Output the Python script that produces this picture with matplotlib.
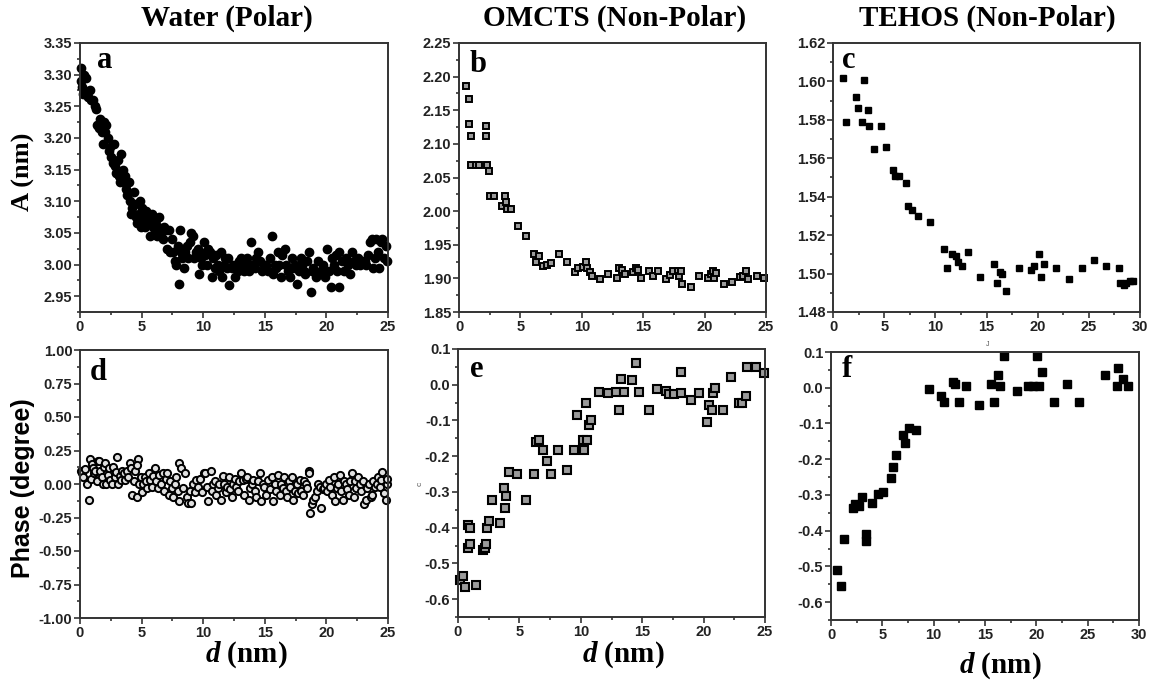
import numpy as np
import matplotlib
matplotlib.use('Agg')
import matplotlib.pyplot as plt
from matplotlib.ticker import MultipleLocator, FormatStrFormatter

# ---- panel a: water amplitude ----
water_d_amp = [0.05, 0.12, 0.2, 0.28, 0.36, 0.45,
               0.55, 0.68, 0.8, 0.92,
               1.05, 1.18, 1.3, 1.42,
               1.55, 1.65, 1.75, 1.85, 1.95,
               2.05, 2.15, 2.25, 2.35, 2.45,
               2.55, 2.65, 2.75, 2.85, 2.95,
               3.05, 3.15, 3.25, 3.35, 3.45,
               3.55, 3.65, 3.75, 3.85, 3.95,
               4.05, 4.15, 4.25, 4.35, 4.45,
               4.55, 4.65, 4.75, 4.85, 4.95,
               5.05, 5.15, 5.25, 5.35, 5.45,
               5.55, 5.65, 5.75, 5.85, 5.95,
               6.05, 6.15, 6.25, 6.35, 6.45,
               6.58, 6.7, 6.82, 6.94,
               7.08, 7.2, 7.32, 7.44,
               7.55, 7.68, 7.8, 7.92,
               8.05, 8.15, 8.2, 8.3, 8.42,
               8.55, 8.68, 8.8, 8.92,
               9.05, 9.15, 9.25, 9.65, 9.45,
               9.55, 9.7, 9.8, 9.92,
               10.05, 10.18, 10.3, 10.42,
               10.55, 10.68, 10.8, 10.92,
               11.05, 11.18, 11.3, 11.42,
               11.55, 11.68, 11.8, 11.92,
               12.05, 12.12, 12.3, 12.42,
               12.55, 12.68, 12.8, 12.92,
               13.05, 13.18, 13.3, 13.42,
               13.55, 13.68, 13.8, 13.92,
               14.05, 14.18, 14.3, 14.42,
               14.6, 14.75, 14.9,
               15.1, 15.25, 15.4,
               15.6, 15.7, 15.82, 15.94,
               16.05, 16.18, 16.3, 16.42,
               16.6, 16.75, 16.9,
               17.05, 17.18, 17.3, 17.42,
               17.6, 17.75, 17.9,
               18.05, 18.18, 18.3, 18.42,
               18.55, 18.75, 18.8, 18.92,
               19.05, 19.18, 19.3, 19.42,
               19.6, 19.75, 19.9,
               20.05, 20.18, 20.4, 20.45,
               20.6, 20.75, 20.9,
               21.05, 21.0, 21.3, 21.42,
               21.6, 21.75, 21.9,
               22.1, 22.25, 22.4,
               22.6, 22.75, 22.9,
               23.1, 23.25, 23.4,
               23.55, 23.68, 23.8, 23.92,
               24.05, 24.18, 24.3, 24.42,
               24.55, 24.68, 24.8, 24.92]
water_amp = [3.29, 3.31, 3.28, 3.27, 3.30, 3.295,
             3.27, 3.265, 3.275, 3.26,
             3.26, 3.25, 3.245, 3.22,
             3.215, 3.23, 3.21, 3.19, 3.225,
             3.21, 3.22, 3.20, 3.18, 3.185,
             3.17, 3.16, 3.19, 3.155, 3.145,
             3.165, 3.14, 3.13, 3.175, 3.15,
             3.13, 3.14, 3.12, 3.11, 3.13,
             3.10, 3.08, 3.09, 3.115, 3.095,
             3.075, 3.065, 3.08, 3.10, 3.06,
             3.09, 3.07, 3.06, 3.085, 3.075,
             3.065, 3.045, 3.07, 3.08, 3.06,
             3.055, 3.07, 3.045, 3.06, 3.075,
             3.05, 3.04, 3.06, 3.055,
             3.025, 3.055, 3.02, 3.04,
             3.02, 3.005, 3.0, 3.03,
             2.97, 3.055, 3.02, 3.01, 2.995,
             3.02, 3.03, 3.01, 3.035,
             3.05, 3.045, 3.01, 2.985, 3.02,
             3.025, 3.02, 3.01, 3.0,
             3.035, 3.015, 3.0, 3.025,
             3.02, 2.98, 3.01, 2.995,
             3.015, 3.0, 2.99, 3.02,
             2.98, 3.0, 3.01, 2.995,
             3.01, 2.967, 2.995, 3.0,
             2.98, 3.0, 2.99, 3.005,
             3.01, 2.995, 2.99, 3.0,
             3.01, 2.99, 3.0, 3.035,
             3.0, 2.995, 3.01, 3.02,
             3.005, 2.99, 3.0,
             3.0, 2.99, 3.01,
             3.045, 2.985, 3.0, 2.995,
             3.02, 3.0, 2.98, 3.015,
             3.025, 3.0, 2.99,
             2.98, 3.01, 2.995, 3.0,
             2.97, 2.99, 3.01,
             3.0, 2.99, 2.985, 3.005,
             3.02, 2.956, 2.99, 2.995,
             2.99, 2.98, 3.005, 2.985,
             2.99, 3.0, 2.98,
             3.025, 2.99, 2.965, 3.01,
             3.0, 3.015, 2.99,
             3.02, 2.965, 3.005, 2.99,
             3.01, 3.0, 2.985,
             3.02, 3.005, 3.0,
             3.01, 3.0, 3.005,
             3.005, 3.0, 3.015,
             3.035, 3.04, 2.995, 3.01,
             3.04, 3.02, 2.995, 3.035,
             3.04, 3.01, 3.03, 3.005]

# ---- panel d: water phase ----
water_d_ph = [0.05, 0.15, 0.28, 0.42,
              0.7, 0.6, 0.9, 0.8, 0.95,
              1.05, 1.15, 1.25, 1.35, 1.45,
              1.55, 1.65, 1.75, 1.85, 1.95,
              2.05, 2.15, 2.25, 2.35, 2.45,
              2.58, 2.7, 2.82, 2.94,
              3.0, 3.12, 3.22, 3.32, 3.42,
              3.55, 3.68, 3.8, 3.92,
              4.05, 4.15, 4.25, 4.35, 4.45,
              4.7, 4.6, 4.65, 4.8, 4.92,
              5.05, 5.15, 5.25, 5.35, 5.45,
              5.58, 5.7, 5.82, 5.94,
              6.08, 6.2, 6.32, 6.44,
              6.58, 6.7, 6.82, 6.94,
              7.08, 7.2, 7.32, 7.44,
              7.58, 7.7, 7.82, 7.94,
              8.0, 8.2, 8.05, 8.35,
              8.55, 8.68, 8.8, 8.92,
              9.05, 9.18, 9.3, 9.42,
              9.6, 9.75, 9.9,
              10.05, 10.18, 10.3, 10.42,
              10.6, 10.68, 10.8, 10.92,
              11.05, 11.18, 11.3, 11.42,
              11.58, 11.7, 11.82, 11.94,
              12.08, 12.2, 12.32, 12.44,
              12.58, 12.7, 12.82, 12.94,
              13.08, 13.2, 13.32, 13.44,
              13.58, 13.7, 13.82, 13.94,
              14.08, 14.2, 14.32, 14.44,
              14.58, 14.7, 14.82, 14.94,
              15.1, 15.25, 15.4,
              15.58, 15.7, 15.82, 15.94,
              16.08, 16.2, 16.32, 16.44,
              16.58, 16.7, 16.82, 16.94,
              17.08, 17.2, 17.32, 17.44,
              17.58, 17.7, 17.82, 17.94,
              18.08, 18.2, 18.32, 18.44,
              18.55, 18.62, 18.7, 18.82, 18.94,
              19.08, 19.2, 19.32, 19.44,
              19.58, 19.7, 19.82, 19.94,
              20.08, 20.2, 20.32, 20.44,
              20.58, 20.7, 20.82, 20.94,
              21.08, 21.2, 21.32, 21.44,
              21.58, 21.7, 21.82, 21.94,
              22.08, 22.2, 22.32, 22.44,
              22.58, 22.7, 22.82, 22.94,
              23.08, 23.2, 23.32, 23.44,
              23.58, 23.7, 23.82, 23.94,
              24.08, 24.2, 24.32, 24.44,
              24.55, 24.65, 24.8, 24.9, 24.95]
water_phase = [0.10, 0.08, 0.05, 0.11,
               -0.12, 0.0, 0.04, 0.19, 0.15,
               0.12, 0.08, 0.10, 0.02, 0.17,
               0.17, 0.10, 0.05, 0.0, 0.13,
               0.16, 0.0, 0.07, 0.12, 0.03,
               0.0, 0.13, 0.05, 0.09,
               0.20, 0.0, 0.06, 0.03, 0.10,
               0.08, 0.03, 0.10, 0.05,
               0.16, 0.12, -0.08, 0.02, 0.10,
               0.19, 0.14, -0.10, 0.0, 0.05,
               -0.06, 0.0, 0.05, 0.02, -0.03,
               0.08, 0.03, -0.02, 0.06,
               0.12, 0.02, -0.03, 0.07,
               0.0, 0.08, -0.05, 0.04,
               0.08, -0.08, 0.02, -0.03,
               -0.10, 0.0, 0.05, -0.05,
               0.16, 0.12, -0.13, -0.03,
               0.08, -0.10, -0.14, -0.05,
               -0.14, 0.0, -0.06, 0.03,
               -0.02, 0.04, -0.06,
               0.08, 0.08, -0.02, -0.13,
               0.10, -0.05, 0.0, 0.02,
               -0.08, -0.03, 0.0, -0.12,
               0.06, 0.0, -0.06, -0.02,
               0.05, -0.04, -0.10, 0.0,
               0.04, -0.02, -0.05, 0.02,
               0.08, 0.03, -0.08, 0.04,
               0.05, -0.12, -0.03, 0.0,
               0.03, -0.05, -0.10, 0.02,
               0.08, -0.13, 0.0, -0.02,
               -0.08, 0.03, -0.04,
               0.05, -0.13, 0.0, -0.05,
               0.07, -0.08, 0.0, -0.03,
               0.05, -0.05, -0.10, 0.02,
               -0.02, 0.05, -0.12, -0.05,
               0.0, -0.07, 0.03, -0.05,
               -0.08, 0.02, 0.0, -0.03,
               0.10, 0.08, -0.22, -0.15, -0.12,
               -0.10, -0.05, 0.0, -0.02,
               -0.18, -0.04, -0.03, 0.0,
               -0.05, 0.03, -0.02, -0.08,
               0.05, -0.13, -0.03, 0.0,
               0.07, -0.05, -0.12, 0.02,
               0.0, -0.04, -0.08, 0.02,
               0.08, -0.10, 0.02, -0.03,
               0.05, 0.0, -0.05, 0.02,
               -0.15, -0.12, -0.03, 0.0,
               -0.10, -0.08, 0.02, -0.02,
               0.0, 0.05, -0.02, 0.03,
               0.09, -0.07, -0.12, 0.0, 0.04]

# ---- panel b: OMCTS amplitude ----
omcts_d_amp = [0.6, 0.82, 0.82, 0.95, 0.95, 1.36, 1.63, 2.17, 2.23, 2.3,
               2.45, 2.53, 2.85, 3.48, 3.75, 3.86, 3.94, 4.2, 4.84, 5.49,
               6.11, 6.25, 6.52, 6.85, 7.15, 7.47, 8.15, 8.83, 9.46, 9.73,
               10.1, 10.33, 10.46, 10.65, 10.87, 11.5, 12.17, 12.83, 13.04, 13.3,
               13.5, 14.2, 14.4, 14.6, 14.84, 15.49, 15.76, 16.17, 16.85, 17.2,
               17.45, 17.8, 17.9, 18.07, 18.2, 18.9, 19.57, 20.24, 20.5, 20.65,
               20.8, 20.9, 21.6, 22.2, 22.9, 23.15, 23.4, 23.5, 24.24, 24.86]
omcts_amp = [2.186, 2.167, 2.13, 2.112, 2.069, 2.069, 2.069, 2.126, 2.112, 2.069,
             2.06, 2.022, 2.022, 2.008, 2.022, 2.013, 2.003, 2.003, 1.978, 1.963,
             1.936, 1.924, 1.933, 1.918, 1.92, 1.923, 1.936, 1.924, 1.909, 1.916,
             1.917, 1.924, 1.915, 1.91, 1.903, 1.899, 1.906, 1.901, 1.916, 1.913,
             1.907, 1.91, 1.916, 1.913, 1.901, 1.911, 1.904, 1.911, 1.899, 1.905,
             1.911, 1.911, 1.903, 1.911, 1.891, 1.887, 1.904, 1.9, 1.907, 1.911,
             1.9, 1.908, 1.891, 1.895, 1.902, 1.904, 1.911, 1.899, 1.903, 1.9]

# ---- panel e: OMCTS phase ----
omcts_d_ph = [0.14, 0.4, 0.55, 0.82, 0.95, 0.82, 0.95, 1.44, 2.04, 2.18,
              2.26, 2.37, 2.53, 2.8, 3.46, 3.73, 3.9, 3.84, 4.17, 4.77,
              5.5, 6.19, 6.32, 6.57, 6.9, 7.22, 7.55, 8.17, 8.86, 9.48,
              9.73, 10.16, 10.27, 10.44, 10.54, 10.7, 10.84, 11.5, 12.2, 12.83,
              13.08, 13.3, 13.54, 14.2, 14.47, 14.74, 15.56, 16.21, 16.9, 17.17,
              17.58, 18.12, 18.2, 18.94, 19.62, 20.25, 20.44, 20.65, 20.79, 20.93,
              21.58, 22.2, 22.89, 23.16, 23.49, 23.52, 24.25, 24.93]
omcts_phase = [-0.547, -0.535, -0.565, -0.393, -0.40, -0.456, -0.446, -0.561, -0.463, -0.456,
               -0.446, -0.402, -0.382, -0.322, -0.386, -0.29, -0.31, -0.346, -0.244, -0.25,
               -0.322, -0.25, -0.16, -0.155, -0.182, -0.214, -0.25, -0.182, -0.238, -0.182,
               -0.085, -0.155, -0.182, -0.05, -0.155, -0.113, -0.10, -0.019, -0.023, -0.019,
               -0.07, 0.017, -0.019, 0.014, 0.061, -0.02, -0.07, -0.011, -0.018, -0.025,
               -0.025, 0.036, -0.024, -0.044, -0.023, -0.103, -0.058, -0.07, -0.023, -0.009,
               -0.07, 0.021, -0.05, -0.05, -0.031, 0.051, 0.051, 0.033]

# ---- panel c: TEHOS amplitude ----
tehos_d_amp = [1.0, 1.3, 2.2, 2.4, 2.8, 3.06, 3.45, 3.5, 4.66, 4.0,
               5.15, 5.86, 6.06, 6.45, 7.1, 7.3, 7.7, 8.3, 9.5, 10.8,
               11.1, 11.6, 12.0, 12.2, 12.6, 13.2, 14.4, 15.7, 16.0, 16.3,
               16.5, 16.9, 18.2, 19.3, 19.6, 20.1, 20.3, 20.6, 21.8, 23.1,
               24.3, 25.5, 26.7, 27.9, 28.0, 28.4, 28.6, 29.0, 29.3]
tehos_amp = [1.602, 1.579, 1.592, 1.586, 1.579, 1.601, 1.585, 1.577, 1.577, 1.565,
             1.566, 1.554, 1.551, 1.551, 1.547, 1.535, 1.533, 1.530, 1.527, 1.513,
             1.503, 1.510, 1.509, 1.506, 1.504, 1.511, 1.498, 1.505, 1.495, 1.501,
             1.500, 1.491, 1.503, 1.502, 1.504, 1.510, 1.498, 1.505, 1.503, 1.497,
             1.503, 1.507, 1.504, 1.503, 1.495, 1.494, 1.495, 1.496, 1.496]

# ---- panel f: TEHOS phase ----
tehos_d_ph = [0.55, 0.94, 1.27, 2.18, 2.34, 2.76, 2.99, 3.41, 3.41, 4.03,
              4.61, 5.1, 5.84, 6.07, 6.33, 7.05, 7.21, 7.63, 8.28, 9.51,
              10.71, 11.0, 11.92, 12.08, 12.5, 13.15, 14.42, 15.62, 15.91, 16.23,
              16.46, 16.85, 18.08, 19.22, 19.64, 20.03, 20.23, 20.55, 21.72, 22.95,
              24.19, 26.66, 27.82, 27.99, 28.41, 28.9]
tehos_phase = [-0.509, -0.554, -0.424, -0.336, -0.324, -0.332, -0.305, -0.409, -0.43, -0.322,
               -0.297, -0.292, -0.254, -0.222, -0.189, -0.131, -0.155, -0.114, -0.117, -0.003,
               -0.022, -0.041, 0.017, 0.011, -0.041, 0.005, -0.048, 0.01, -0.041, 0.036,
               0.004, 0.089, -0.008, 0.004, 0.004, 0.089, 0.004, 0.043, -0.041, 0.01,
               -0.041, 0.036, 0.004, 0.055, 0.024, 0.004]

titles = ['Water (Polar)', 'OMCTS (Non-Polar)', 'TEHOS (Non-Polar)']
letters = ['a', 'b', 'c', 'd', 'e', 'f']

plt.rcParams['axes.unicode_minus'] = False
plt.rcParams['mathtext.fontset'] = 'custom'
plt.rcParams['mathtext.it'] = 'Liberation Serif:italic:bold'
plt.rcParams['mathtext.rm'] = 'Liberation Serif:bold'

W, H = 1153, 682
fig = plt.figure(figsize=(W / 100, H / 100), dpi=100)
SERIF = 'Liberation Serif'
SANS = 'Liberation Sans'


def px_axes(l, t, r, b):
    return fig.add_axes([l / W, 1 - b / H, (r - l) / W, (b - t) / H])


def fx(x):
    return x / W


def fy(y):
    return 1 - y / H


def style(ax, xlim, xmaj, ylim, ymaj, fmt):
    ax.set_xlim(*xlim)
    ax.set_ylim(*ylim)
    ax.xaxis.set_major_locator(MultipleLocator(xmaj))
    ax.xaxis.set_minor_locator(MultipleLocator(xmaj / 2))
    ax.yaxis.set_major_locator(MultipleLocator(ymaj))
    ax.yaxis.set_minor_locator(MultipleLocator(ymaj / 2))
    ax.yaxis.set_major_formatter(FormatStrFormatter(fmt))
    ax.tick_params(which='both', direction='out', width=1.1, color='#222222')
    ax.tick_params(which='major', length=4, labelsize=10.5, pad=1.5)
    ax.tick_params(which='minor', length=2.5)
    for lab in ax.get_xticklabels() + ax.get_yticklabels():
        lab.set_fontfamily(SANS)
        lab.set_fontweight('bold')
        lab.set_color('#222222')
    for sp in ax.spines.values():
        sp.set_linewidth(1.4)
        sp.set_color('#333333')


ax_a = px_axes(80, 43, 388, 312)
ax_b = px_axes(459, 43, 766, 312)
ax_c = px_axes(833, 43, 1140, 312)
ax_d = px_axes(80, 350, 388, 618)
ax_e = px_axes(458, 349, 765, 617)
ax_f = px_axes(831, 352, 1139, 620)

ax_a.plot(water_d_amp, water_amp, 'o', ms=6, color='black', mec='black', clip_on=False)
style(ax_a, (0, 25), 5, (2.925, 3.35), 0.05, '%.2f')

ax_b.plot(omcts_d_amp, omcts_amp, 's', ms=4.6, mfc='#9a9a9a', mec='black', mew=1.4, clip_on=False)
style(ax_b, (0, 25), 5, (1.85, 2.25), 0.05, '%.2f')

ax_c.plot(tehos_d_amp, tehos_amp, 's', ms=5, color='black', clip_on=False)
style(ax_c, (0, 30), 5, (1.48, 1.62), 0.02, '%.2f')

ax_d.plot(water_d_ph, water_phase, 'o', ms=5.2, mfc='#e0e0e0', mec='black', mew=1.4, clip_on=False)
style(ax_d, (0, 25), 5, (-1.0, 1.0), 0.25, '%.2f')

ax_e.plot(omcts_d_ph, omcts_phase, 's', ms=5.2, mfc='#9a9a9a', mec='black', mew=1.5, clip_on=False)
style(ax_e, (0, 25), 5, (-0.65, 0.1), 0.1, '%.1f')

ax_f.plot(tehos_d_ph, tehos_phase, 's', ms=5.2, color='black', clip_on=False)
style(ax_f, (0, 30), 5, (-0.65, 0.1), 0.1, '%.1f')

# column titles
for cx, t in zip([227, 615, 987], titles):
    fig.text(fx(cx), fy(18), t, ha='center', va='center', fontsize=21,
             fontfamily=SERIF, fontweight='bold')

# panel letters
for (lx, ly), s in zip([(97, 68), (470, 72), (842, 68), (90, 380), (470, 377), (842, 377)], letters):
    fig.text(fx(lx), fy(ly), s, ha='left', va='baseline', fontsize=22,
             fontfamily=SERIF, fontweight='bold')

# axis labels
fig.text(fx(23), fy(172), 'A (nm)', rotation=90, ha='center', va='center',
         fontsize=19, fontfamily=SERIF, fontweight='bold')
fig.text(fx(23), fy(488), 'Phase (degree)', rotation=90, ha='center', va='center',
         fontsize=18, fontfamily=SANS, fontweight='bold')
for cx, by in [(246, 662), (623, 662), (1000, 673)]:
    fig.text(fx(cx), fy(by), r'$d$ (nm)', ha='center', va='baseline', fontsize=21,
             fontfamily=SERIF, fontweight='bold')

# small stray marks present in the source figure
fig.text(fx(420), fy(484), 'c', rotation=90, ha='center', va='center',
         fontsize=6, color='#555555', fontfamily=SANS)
fig.text(fx(988), fy(345), 'J', ha='center', va='center',
         fontsize=5, color='#555555', fontfamily=SANS)

fig.savefig('out.png', dpi=100)
